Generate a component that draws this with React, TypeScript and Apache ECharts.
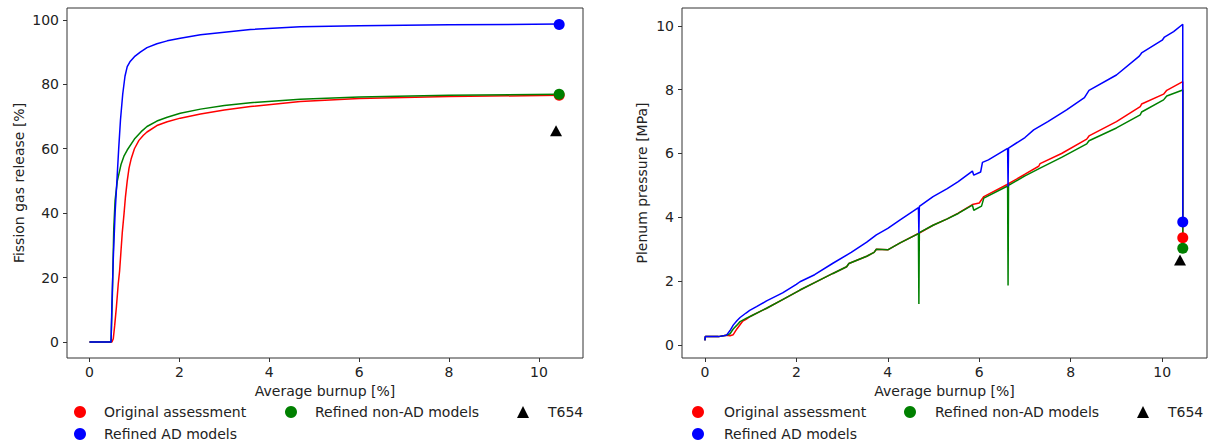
import React, { useEffect, useRef } from "react";
import * as echarts from "echarts";

// ---------- Data ----------
const xTicks = [0, 2, 4, 6, 8, 10];
const fgrTicks = [0, 20, 40, 60, 80, 100];
const pressureTicks = [0, 2, 4, 6, 8, 10];

const legendOriginal = "Original assessment";
const legendRefinedAD = "Refined AD models";
const legendRefinedNonAD = "Refined non-AD models";
const legendT654 = "T654";

// Fission gas release [%] vs average burnup [%]
const fgrOriginal: number[][] = [
  [0, 0], [0.5, 0], [0.53, 1], [0.56, 5], [0.6, 11], [0.64, 18], [0.67, 22], [0.7, 28],
  [0.73, 34], [0.77, 40], [0.8, 45], [0.84, 50], [0.88, 54], [0.93, 57], [1.0, 60],
  [1.1, 62.6], [1.2, 64.2], [1.28, 65.2], [1.5, 67.2], [1.73, 68.4], [2.02, 69.5],
  [2.47, 70.8], [3.0, 72], [3.58, 73.1], [4.69, 74.7], [6, 75.6], [8, 76.2], [10.45, 76.6],
];
const fgrRefinedNonAD: number[][] = [
  [0, 0], [0.48, 0], [0.51, 15], [0.54, 35], [0.57, 44], [0.62, 50], [0.7, 55],
  [0.77, 57.8], [0.84, 59.6], [1.0, 63], [1.15, 65.3], [1.28, 66.9], [1.5, 68.6],
  [1.73, 69.8], [2.02, 71], [2.47, 72.3], [3.0, 73.4], [3.58, 74.3], [4.69, 75.4],
  [6, 76.1], [8, 76.6], [10.45, 76.9],
];
const fgrRefinedAD: number[][] = [
  [0, 0], [0.48, 0], [0.5, 12], [0.53, 26], [0.57, 40], [0.61, 50], [0.65, 60],
  [0.69, 69], [0.74, 77], [0.79, 82.5], [0.84, 85.5], [0.9, 87], [1.0, 88.6],
  [1.13, 90], [1.28, 91.4], [1.5, 92.6], [1.73, 93.5], [2.02, 94.3], [2.47, 95.4],
  [3.0, 96.2], [3.58, 97], [4.69, 97.9], [6, 98.2], [8, 98.5], [10.45, 98.7],
];
const fgrEndOriginal: number[][] = [[10.45, 76.6]];
const fgrEndRefinedNonAD: number[][] = [[10.45, 76.9]];
const fgrEndRefinedAD: number[][] = [[10.45, 98.6]];
const fgrT654: number[][] = [[10.38, 65.6]];

// Plenum pressure [MPa] vs average burnup [%]
const ppOriginal: number[][] = [
  [0, 0.14], [0.01, 0.26], [0.3, 0.26], [0.47, 0.3], [0.55, 0.29], [0.62, 0.32],
  [0.7, 0.5], [0.83, 0.75], [0.9, 0.8], [1.0, 0.9], [1.35, 1.15], [1.7, 1.42],
  [2.08, 1.72], [2.4, 1.95], [2.8, 2.24], [3.1, 2.45], [3.15, 2.55], [3.54, 2.78],
  [3.7, 2.9], [3.75, 3.0], [4.0, 2.98], [4.27, 3.2], [4.68, 3.5], [4.99, 3.75],
  [5.3, 3.95], [5.54, 4.13], [5.85, 4.4], [6.0, 4.45], [6.1, 4.65], [6.6, 5.02],
  [7.0, 5.35], [7.3, 5.6], [7.33, 5.68], [7.8, 6.0], [8.35, 6.45], [8.4, 6.55],
  [9.0, 7.0], [9.52, 7.47], [9.55, 7.55], [10.03, 7.86], [10.1, 7.98], [10.45, 8.25],
  [10.451, 3.36],
];
const ppRefinedNonAD: number[][] = [
  [0, 0.14], [0.01, 0.26], [0.3, 0.26], [0.47, 0.3], [0.55, 0.35], [0.62, 0.5],
  [0.7, 0.62], [0.77, 0.73], [0.9, 0.83], [1.0, 0.9], [1.35, 1.15], [1.7, 1.42],
  [2.08, 1.72], [2.4, 1.95], [2.8, 2.24], [3.1, 2.45], [3.15, 2.55], [3.54, 2.78],
  [3.7, 2.9], [3.75, 3.0], [4.0, 2.98], [4.27, 3.2], [4.67, 3.49], [4.68, 1.28],
  [4.69, 3.52], [4.99, 3.75], [5.3, 3.95], [5.54, 4.12], [5.85, 4.38], [5.88, 4.22],
  [6.05, 4.35], [6.1, 4.6], [6.62, 4.98], [6.63, 1.86], [6.64, 5.0], [7.0, 5.3],
  [7.33, 5.54], [7.8, 5.88], [8.35, 6.3], [8.4, 6.4], [9.0, 6.8], [9.52, 7.21],
  [9.55, 7.3], [10.03, 7.68], [10.1, 7.8], [10.45, 7.99], [10.451, 3.03],
];
const ppRefinedAD: number[][] = [
  [0, 0.14], [0.01, 0.26], [0.3, 0.26], [0.47, 0.3], [0.55, 0.45], [0.62, 0.62],
  [0.7, 0.76], [0.77, 0.86], [0.9, 1.0], [0.98, 1.08], [1.13, 1.2], [1.35, 1.38],
  [1.7, 1.63], [2.0, 1.9], [2.08, 1.98], [2.4, 2.2], [2.8, 2.56], [3.2, 2.9],
  [3.54, 3.22], [3.75, 3.45], [4.0, 3.65], [4.27, 3.92], [4.67, 4.3], [4.68, 3.5],
  [4.69, 4.34], [4.99, 4.65], [5.3, 4.9], [5.54, 5.12], [5.85, 5.45], [5.88, 5.32],
  [6.03, 5.42], [6.07, 5.72], [6.2, 5.8], [6.62, 6.16], [6.63, 4.96], [6.64, 6.17],
  [7.0, 6.5], [7.19, 6.74], [7.5, 7.0], [7.91, 7.37], [8.3, 7.75], [8.4, 7.98],
  [9.0, 8.46], [9.5, 9.05], [9.55, 9.15], [10.0, 9.55], [10.05, 9.65], [10.25, 9.82],
  [10.45, 10.05], [10.451, 3.85],
];
const ppEndOriginal: number[][] = [[10.45, 3.36]];
const ppEndRefinedNonAD: number[][] = [[10.45, 3.03]];
const ppEndRefinedAD: number[][] = [[10.45, 3.85]];
const ppT654: number[][] = [[10.39, 2.66]];

// ---------- Styling ----------
const RED = "#ff0000";
const GREEN = "#008000";
const BLUE = "#0000ff";
const BLACK = "#000000";
const TEXT = "#222222";
const FONT = "DejaVu Sans";
const FS = 14;

function xAxisFor(gridIndex: number) {
  return {
    type: "value",
    gridIndex,
    min: -0.5,
    max: 10.98,
    name: "Average burnup [%]",
    nameLocation: "middle",
    nameGap: 24,
    nameTextStyle: { color: TEXT, fontSize: FS, fontFamily: FONT },
    axisLine: { show: false, onZero: false },
    axisTick: { show: true, length: 4, customValues: xTicks, lineStyle: { color: "#333" } },
    axisLabel: { customValues: xTicks, color: TEXT, fontSize: FS, fontFamily: FONT, margin: 7 },
    splitLine: { show: false },
  };
}

function yAxisFor(gridIndex: number, min: number, max: number, ticks: number[], name: string, gap: number) {
  return {
    type: "value",
    gridIndex,
    min,
    max,
    name,
    nameLocation: "middle",
    nameGap: gap,
    nameTextStyle: { color: TEXT, fontSize: FS, fontFamily: FONT },
    axisLine: { show: false, onZero: false },
    axisTick: { show: true, length: 4, customValues: ticks, lineStyle: { color: "#333" } },
    axisLabel: { customValues: ticks, color: TEXT, fontSize: FS, fontFamily: FONT, margin: 8 },
    splitLine: { show: false },
  };
}

function lineSeries(name: string, data: number[][], color: string, idx: number) {
  return {
    name,
    type: "line",
    xAxisIndex: idx,
    yAxisIndex: idx,
    data,
    showSymbol: false,
    symbol: "none",
    lineStyle: { color, width: 1.5 },
    itemStyle: { color },
    z: 2,
  };
}

function markerSeries(name: string, data: number[][], color: string, idx: number, symbol: string, size: any) {
  return {
    name,
    type: "scatter",
    xAxisIndex: idx,
    yAxisIndex: idx,
    data,
    symbol,
    symbolSize: size,
    itemStyle: { color, opacity: 1 },
    z: 3,
  };
}

function legendAt(left: number, names: string[], icon: string, pad: number) {
  return {
    left,
    top: 405,
    orient: "vertical",
    padding: 0,
    itemGap: 8,
    itemWidth: 12,
    itemHeight: 12,
    selectedMode: false,
    icon,
    data: names.map((n) => ({ name: n, icon })),
    textStyle: { color: TEXT, fontSize: FS, fontFamily: FONT, padding: [0, 0, 0, pad] },
  };
}

export default function App() {
  const ref = useRef<HTMLDivElement>(null);
  useEffect(() => {
    if (!ref.current) return;
    const chart = echarts.init(ref.current, undefined, { renderer: "svg" });
    chart.setOption({
      animation: false,
      backgroundColor: "#ffffff",
      textStyle: { fontFamily: FONT },
      grid: [
        { left: 67, top: 8, width: 516, height: 350, show: true, borderColor: "#333", borderWidth: 1, backgroundColor: "transparent" },
        { left: 682, top: 8, width: 525, height: 350, show: true, borderColor: "#333", borderWidth: 1, backgroundColor: "transparent" },
      ],
      xAxis: [xAxisFor(0), xAxisFor(1)],
      yAxis: [
        yAxisFor(0, -4.97, 103.7, fgrTicks, "Fission gas release [%]", 41),
        yAxisFor(1, -0.41, 10.56, pressureTicks, "Plenum pressure [MPa]", 33),
      ],
      legend: [
        legendAt(74, [legendOriginal, legendRefinedAD], "circle", 13),
        legendAt(285, [legendRefinedNonAD], "circle", 13),
        legendAt(517, [legendT654], "triangle", 14),
        legendAt(692, [legendOriginal, legendRefinedAD], "circle", 15),
        legendAt(904, [legendRefinedNonAD], "circle", 14),
        legendAt(1137, [legendT654], "triangle", 14),
      ],
      series: [
        lineSeries("fgr-original", fgrOriginal, RED, 0),
        lineSeries("fgr-nonad", fgrRefinedNonAD, GREEN, 0),
        lineSeries("fgr-ad", fgrRefinedAD, BLUE, 0),
        markerSeries(legendOriginal, fgrEndOriginal, RED, 0, "circle", 11),
        markerSeries(legendRefinedNonAD, fgrEndRefinedNonAD, GREEN, 0, "circle", 11),
        markerSeries(legendRefinedAD, fgrEndRefinedAD, BLUE, 0, "circle", 11),
        markerSeries(legendT654, fgrT654, BLACK, 0, "triangle", [12, 11]),
        lineSeries("pp-original", ppOriginal, RED, 1),
        lineSeries("pp-nonad", ppRefinedNonAD, GREEN, 1),
        lineSeries("pp-ad", ppRefinedAD, BLUE, 1),
        markerSeries(legendOriginal, ppEndOriginal, RED, 1, "circle", 11),
        markerSeries(legendRefinedNonAD, ppEndRefinedNonAD, GREEN, 1, "circle", 11),
        markerSeries(legendRefinedAD, ppEndRefinedAD, BLUE, 1, "circle", 11),
        markerSeries(legendT654, ppT654, BLACK, 1, "triangle", [12, 11]),
      ],
    });
    return () => chart.dispose();
  }, []);
  return (
    <div
      ref={ref}
      style={{ position: "fixed", left: 0, top: 0, width: 1209, height: 443, background: "#fff" }}
    />
  );
}
